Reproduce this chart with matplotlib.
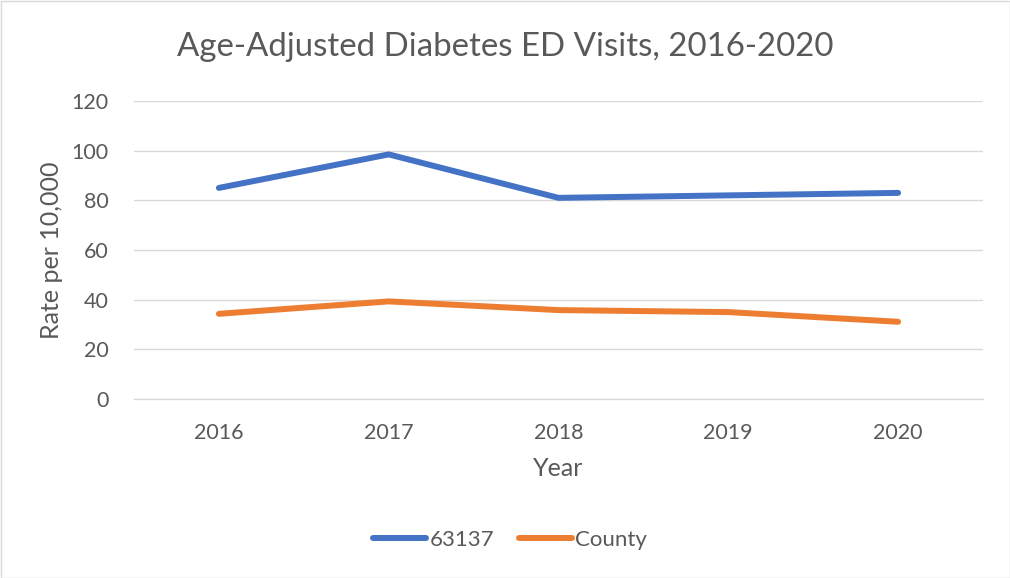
import matplotlib
matplotlib.use("Agg")
import matplotlib.pyplot as plt
from matplotlib.patches import Rectangle

years = ["2016", "2017", "2018", "2019", "2020"]
zip_63137 = [85, 98.5, 81, 82, 83]
county = [34.3, 39.3, 35.8, 35.0, 31.1]
y_ticks = [0, 20, 40, 60, 80, 100, 120]

plt.rcParams['font.family'] = ['Lato', 'DejaVu Sans']
txt = '#595959'
grid = '#d9d9d9'

fig = plt.figure(figsize=(10.10, 5.78), dpi=100)
ax = fig.add_axes([134/1010, 1-399/578, 849/1010, 298/578])

x = list(range(len(years)))
ax.plot(x, zip_63137, color='#4472C4', lw=4.3, solid_capstyle='round', solid_joinstyle='round', label='63137')
ax.plot(x, county, color='#ED7D31', lw=4.3, solid_capstyle='round', solid_joinstyle='round', label='County')

ax.set_xlim(-0.5, len(years)-0.5)
ax.set_ylim(0, 120)
ax.set_yticks(y_ticks)
ax.set_xticks(x)
ax.set_xticklabels(years)
ax.grid(axis='y', color=grid, lw=1)
ax.set_axisbelow(True)
for s in ['top', 'right', 'left']:
    ax.spines[s].set_visible(False)
ax.spines['bottom'].set_color(grid)
ax.spines['bottom'].set_linewidth(1)
ax.tick_params(length=0, colors=txt, labelsize=15.5)
ax.tick_params(axis='y', pad=18.5)
ax.tick_params(axis='x', pad=17)

ax.set_xlabel('Year', color=txt, fontsize=18, labelpad=10)
ax.set_ylabel('Rate per 10,000', color=txt, fontsize=18, labelpad=6)

fig.text(0.5, 1-47/578, 'Age-Adjusted Diabetes ED Visits, 2016-2020', ha='center', va='center',
         fontsize=23.8, color=txt)

leg = fig.legend(loc='center', bbox_to_anchor=(510/1010, 1-540/578), ncol=2, frameon=False,
                 fontsize=16, handlelength=2.4, handletextpad=0.15, columnspacing=1.1)
for t in leg.get_texts():
    t.set_color(txt)

fig.patches.append(Rectangle((0.5/1010, 0.5/578), 1-1/1010, 1-1/578, transform=fig.transFigure,
                             fill=False, edgecolor=grid, lw=1))

fig.savefig('out.png', dpi=100)
